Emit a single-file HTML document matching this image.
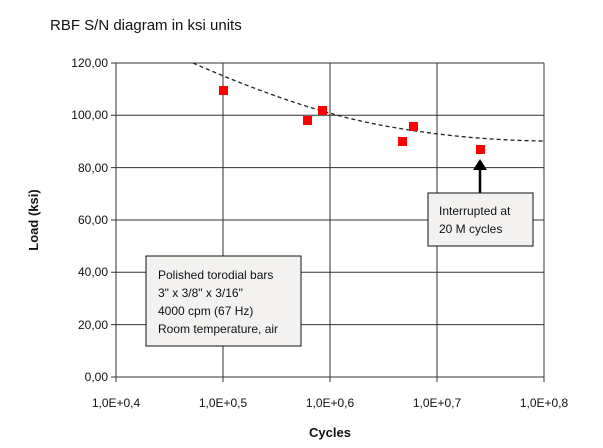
<!DOCTYPE html>
<html><head><style>body{margin:0;background:#fff}svg text{font-family:"Liberation Sans",sans-serif}</style></head><body>
<svg width="603" height="443" viewBox="0 0 603 443" xmlns="http://www.w3.org/2000/svg">
<rect width="603" height="443" fill="#fff"/>
<text x="50" y="30" font-size="15" fill="#111">RBF S/N diagram in ksi units</text>
<g stroke="#777" stroke-width="1.5">
<line x1="116" y1="63" x2="116" y2="382"/><line x1="223" y1="63" x2="223" y2="382"/><line x1="330" y1="63" x2="330" y2="382"/><line x1="437" y1="63" x2="437" y2="382"/><line x1="544" y1="63" x2="544" y2="382"/>
</g>
<g stroke="#333" stroke-width="1">
<line x1="111" y1="63" x2="544" y2="63"/><line x1="111" y1="115.3" x2="544" y2="115.3"/><line x1="111" y1="167.6" x2="544" y2="167.6"/><line x1="111" y1="220" x2="544" y2="220"/><line x1="111" y1="272.3" x2="544" y2="272.3"/><line x1="111" y1="324.6" x2="544" y2="324.6"/><line x1="111" y1="377" x2="544" y2="377"/>
</g>
<g font-size="12" fill="#111" text-anchor="end">
<text x="108" y="67">120,00</text><text x="108" y="119">100,00</text><text x="108" y="172">80,00</text><text x="108" y="224">60,00</text><text x="108" y="276">40,00</text><text x="108" y="329">20,00</text><text x="108" y="381">0,00</text>
</g>
<g font-size="12" fill="#111" text-anchor="middle">
<text x="116" y="407">1,0E+0,4</text><text x="223" y="407">1,0E+0,5</text><text x="330" y="407">1,0E+0,6</text><text x="437" y="407">1,0E+0,7</text><text x="544" y="407">1,0E+0,8</text>
</g>
<text x="330" y="437" font-size="13" font-weight="bold" text-anchor="middle" fill="#111">Cycles</text>
<text transform="translate(38,220) rotate(-90)" font-size="13" font-weight="bold" text-anchor="middle" fill="#111">Load (ksi)</text>
<path d="M193,63 Q300,110 380,125 Q460,140 544,141" fill="none" stroke="#222" stroke-width="1.3" stroke-dasharray="4,3"/>
<g fill="#f00">
<rect x="219" y="86" width="9" height="9"/><rect x="303" y="116" width="9" height="9"/><rect x="318" y="106" width="9" height="9"/><rect x="398" y="137" width="9" height="9"/><rect x="409" y="122" width="9" height="9"/><rect x="476" y="145" width="9" height="9"/>
</g>
<line x1="480" y1="193" x2="480" y2="168" stroke="#000" stroke-width="2.5"/>
<polygon points="480,159 473,170 487,170" fill="#000"/>
<rect x="428" y="193" width="105" height="53" fill="#f3f2f0" stroke="#111" stroke-width="1"/>
<text x="439" y="215" font-size="12" fill="#111">Interrupted at</text>
<text x="439" y="233" font-size="12" fill="#111">20 M cycles</text>
<rect x="146" y="256" width="155" height="90" fill="#f3f2f0" stroke="#111" stroke-width="1"/>
<g font-size="12" fill="#111">
<text x="158" y="279">Polished torodial bars</text><text x="158" y="297">3" x  3/8" x 3/16"</text><text x="158" y="315">4000 cpm (67 Hz)</text><text x="158" y="333">Room temperature, air</text>
</g>
</svg>
</body></html>
